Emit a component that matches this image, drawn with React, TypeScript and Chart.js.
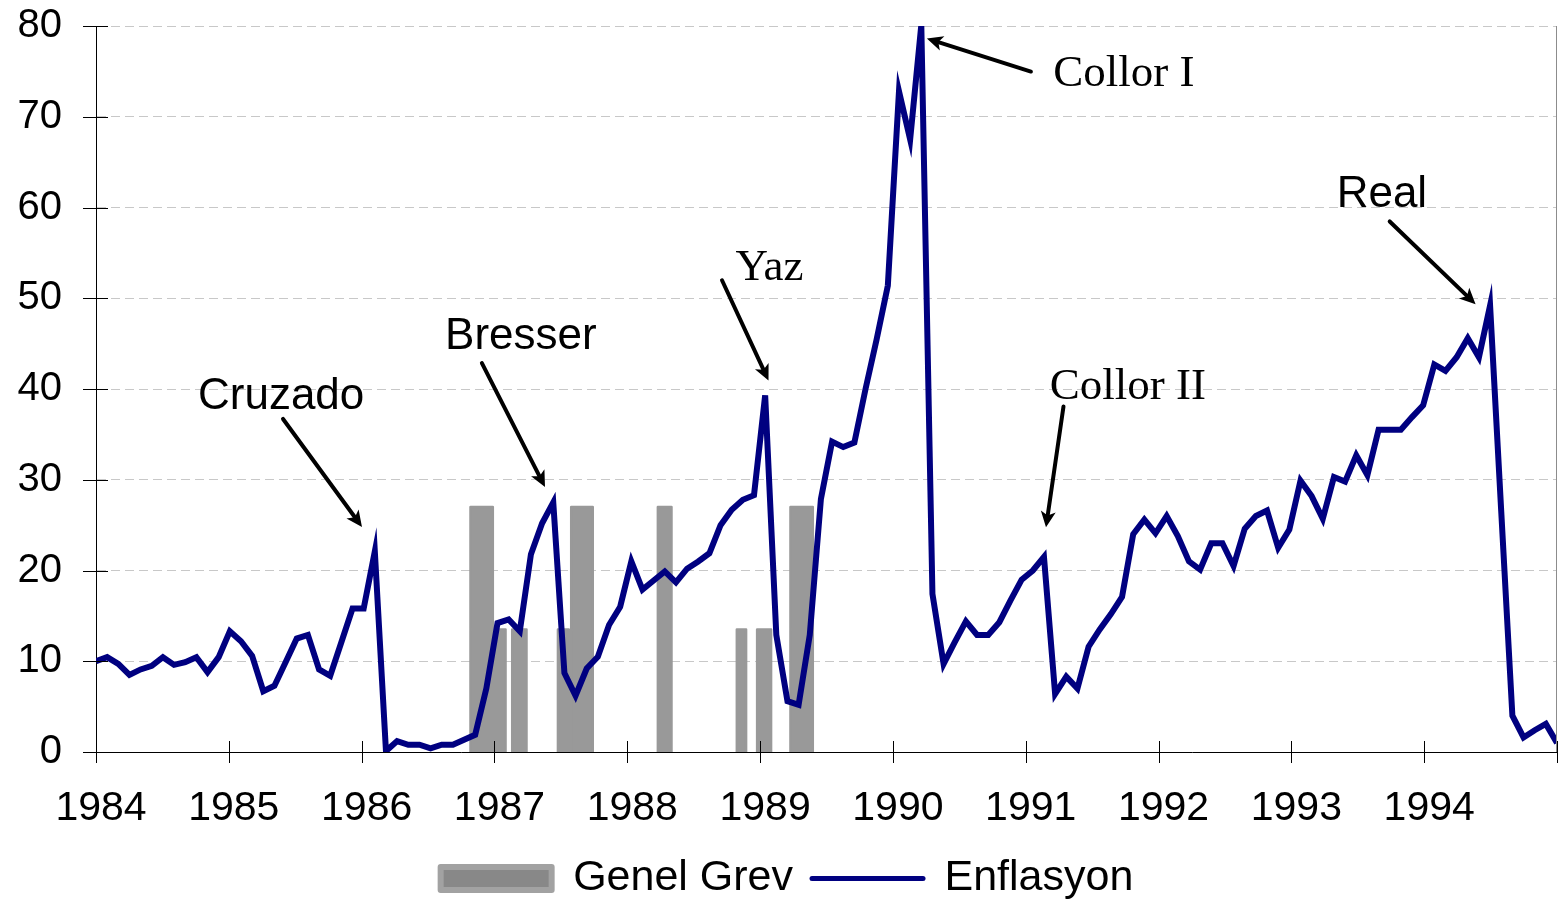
import React, { useEffect, useRef } from "react";
import { Chart, registerables } from "chart.js";

Chart.register(...registerables);

// ---------- DATA ----------
const yearLabels = ["1984", "1985", "1986", "1987", "1988", "1989", "1990", "1991", "1992", "1993", "1994"];

// Monthly inflation (%), Jan 1984 .. Dec 1994
const inflation = [
  10.0, 10.45, 9.7, 8.5, 9.1, 9.5, 10.45, 9.6, 9.9, 10.45, 8.8, 10.45,
  13.3, 12.2, 10.6, 6.7, 7.3, 9.9, 12.5, 12.9, 9.1, 8.4, 12.1, 15.8,
  15.8, 22.1, 0.1, 1.2, 0.8, 0.8, 0.4, 0.8, 0.8, 1.35, 1.9, 7.0,
  14.2, 14.6, 13.3, 21.8, 25.2, 27.5, 8.7, 6.2, 9.2, 10.5, 14.0, 16.0,
  21.0, 17.9, 18.9, 19.9, 18.7, 20.2, 21.0, 21.9, 25.0, 26.7, 27.8, 28.3,
  39.3, 12.9, 5.6, 5.2, 12.9, 27.9, 34.2, 33.6, 34.1, 40.0, 45.5, 51.4,
  72.8, 67.5, 80.1, 17.4, 9.7, 12.1, 14.4, 12.9, 12.9, 14.3, 16.7, 19.0,
  20.0, 21.5, 6.4, 8.3, 7.0, 11.6, 13.5, 15.2, 17.1, 24.0, 25.6, 24.1,
  26.0, 23.8, 21.0, 20.1, 23.0, 23.0, 20.5, 24.6, 26.0, 26.6, 22.5, 24.5,
  29.9, 28.2, 25.7, 30.3, 29.8, 32.7, 30.5, 35.5, 35.5, 35.5, 36.9, 38.2,
  42.7, 42.0, 43.5, 45.6, 43.5, 49.2, 26.5, 4.0, 1.6, 2.4, 3.1, 1.0,
];

// General strike periods (month index from Jan 1984) and bar level
const strikeStart = [33.58, 35.79, 37.32, 41.42, 42.61, 50.38, 57.46, 59.28, 62.27];
const strikeEnd = [35.58, 36.72, 38.6, 42.39, 44.54, 51.6, 58.29, 60.53, 64.27];
const strikeLevel = [27, 13.5, 13.5, 13.5, 27, 27, 13.5, 13.5, 27];

const seriesNames = ["Genel Grev", "Enflasyon"];

const annotationTexts = ["Cruzado", "Bresser", "Yaz", "Collor I", "Collor II", "Real"];
const annotationSerif = [false, false, true, true, true, false];
// text anchor (month index, value at baseline), arrow tail and tip in data units
const annotationAt = [
  [16.6, 37.8], [38.1, 44.4], [60.39, 52.0], [92.17, 73.4], [92.53, 38.9], [115.3, 60.1],
];
const arrowTail = [
  [16.77, 36.7], [34.6, 42.86], [56.13, 51.98], [83.83, 74.98], [86.75, 38.08], [116.0, 58.46],
];
const arrowTip = [
  [23.85, 24.8], [40.26, 29.2], [60.3, 40.93], [74.5, 78.63], [85.18, 24.76], [123.7, 49.34],
];

// ---------- STYLE ----------
const SANS = "'Liberation Sans', Arial, sans-serif";
const SERIF = "'Liberation Serif', 'Times New Roman', serif";
const NAVY = "#000080";
const BAR_GREY = "#999999";

function drawArrow(ctx: CanvasRenderingContext2D, x1: number, y1: number, x2: number, y2: number) {
  const ang = Math.atan2(y2 - y1, x2 - x1);
  const head = 16;
  const half = 7.5;
  const c = Math.cos(ang);
  const s = Math.sin(ang);
  const bx = x2 - head * c;
  const by = y2 - head * s;
  ctx.strokeStyle = "#000";
  ctx.fillStyle = "#000";
  ctx.lineWidth = 4;
  ctx.lineCap = "round";
  ctx.beginPath();
  ctx.moveTo(x1, y1);
  ctx.lineTo(bx + 4 * c, by + 4 * s);
  ctx.stroke();
  ctx.beginPath();
  ctx.moveTo(x2, y2);
  ctx.lineTo(bx - half * s, by + half * c);
  ctx.lineTo(bx + 4 * c, by + 4 * s);
  ctx.lineTo(bx + half * s, by - half * c);
  ctx.closePath();
  ctx.fill();
}

const overlayPlugin = {
  id: "overlay",
  afterDatasetsDraw(chart: any) {
    const { ctx, chartArea: a, scales } = chart;
    const x = scales.x;
    const y = scales.y;
    ctx.save();
    // right frame line
    ctx.strokeStyle = "#8c8c8c";
    ctx.lineWidth = 1;
    ctx.beginPath();
    ctx.moveTo(Math.round(a.right) - 0.5, a.top);
    ctx.lineTo(Math.round(a.right) - 0.5, a.bottom);
    ctx.stroke();
    // tick marks crossing the axes
    ctx.strokeStyle = "#000";
    y.ticks.forEach((t: any) => {
      const py = Math.round(y.getPixelForValue(t.value)) + 0.5;
      ctx.beginPath();
      ctx.moveTo(a.left - 13, py);
      ctx.lineTo(a.left + 12, py);
      ctx.stroke();
    });
    x.ticks.forEach((t: any) => {
      const px = Math.round(x.getPixelForValue(t.value)) + 0.5;
      ctx.beginPath();
      ctx.moveTo(px, a.bottom + 11);
      ctx.lineTo(px, a.bottom - 11);
      ctx.stroke();
    });
    ctx.restore();
  },
  afterDraw(chart: any) {
    const { ctx, scales } = chart;
    const x = scales.x;
    const y = scales.y;
    ctx.save();
    annotationTexts.forEach((txt, i) => {
      const tx = x.getPixelForValue(annotationAt[i][0]);
      const ty = y.getPixelForValue(annotationAt[i][1]);
      ctx.font = annotationSerif[i] ? `45px ${SERIF}` : `44px ${SANS}`;
      ctx.fillStyle = "#000";
      ctx.textAlign = "center";
      ctx.textBaseline = "alphabetic";
      ctx.fillText(txt, tx, ty);
      drawArrow(
        ctx,
        x.getPixelForValue(arrowTail[i][0]),
        y.getPixelForValue(arrowTail[i][1]),
        x.getPixelForValue(arrowTip[i][0]),
        y.getPixelForValue(arrowTip[i][1])
      );
    });
    ctx.restore();
  },
};

export default function App() {
  const canvasRef = useRef<HTMLCanvasElement | null>(null);

  useEffect(() => {
    if (!canvasRef.current) return;
    Chart.defaults.font.family = SANS;

    const N = inflation.length;
    const lineData = inflation.map((v, i) => ({ x: i, y: v }));
    const barData: any[] = [];
    strikeStart.forEach((s, i) => {
      const e = strikeEnd[i];
      const h = strikeLevel[i];
      barData.push({ x: s, y: 0 }, { x: s, y: h }, { x: e, y: h }, { x: e, y: 0 }, { x: e, y: null });
    });

    const chart = new Chart(canvasRef.current, {
      type: "line",
      data: {
        datasets: [
          {
            label: seriesNames[0],
            data: barData,
            borderColor: BAR_GREY,
            backgroundColor: BAR_GREY,
            borderWidth: 2.5,
            borderJoinStyle: "round",
            fill: "origin",
            pointRadius: 0,
            tension: 0,
            spanGaps: false,
            order: 2,
          },
          {
            label: seriesNames[1],
            data: lineData,
            borderColor: NAVY,
            backgroundColor: NAVY,
            borderWidth: 6,
            fill: false,
            pointRadius: 0,
            tension: 0,
            order: 1,
          },
        ],
      },
      options: {
        animation: false,
        responsive: false,
        devicePixelRatio: 1,
        layout: { padding: { left: 17, right: 8, top: 26, bottom: -9 } },
        plugins: {
          tooltip: { enabled: false },
          legend: {
            position: "bottom",
            labels: {
              usePointStyle: true,
              pointStyleWidth: 111,
              boxHeight: 23,
              padding: 19,
              color: "#000",
              font: { size: 43, family: SANS },
              generateLabels: () => [
                {
                  text: seriesNames[0],
                  fillStyle: "#888888",
                  strokeStyle: "#a2a2a2",
                  lineWidth: 6,
                  lineJoin: "round",
                  pointStyle: "rect",
                  datasetIndex: 0,
                  hidden: false,
                  fontColor: "#000",
                },
                {
                  text: seriesNames[1],
                  fillStyle: NAVY,
                  strokeStyle: NAVY,
                  lineWidth: 5,
                  lineCap: "round",
                  pointStyle: "line",
                  datasetIndex: 1,
                  hidden: false,
                  fontColor: "#000",
                },
              ],
            },
          },
        },
        scales: {
          x: {
            type: "linear",
            min: 0,
            max: N - 1,
            afterBuildTicks: (axis: any) => {
              const ticks = [];
              for (let k = 0; k <= yearLabels.length; k++) ticks.push({ value: (k * (N - 1)) / yearLabels.length });
              axis.ticks = ticks;
            },
            afterFit: (axis: any) => {
              axis.height = 86;
            },
            ticks: {
              autoSkip: false,
              maxRotation: 0,
              padding: 0,
              labelOffset: 5,
              color: "#000",
              font: { size: 41, family: SANS },
              callback: (_v: any, i: number) => (i < yearLabels.length ? yearLabels[i] : ""),
            },
            grid: {
              drawOnChartArea: false,
              drawTicks: true,
              tickLength: 32,
              tickColor: "rgba(0,0,0,0)",
              tickWidth: 1,
            },
            border: { color: "#000", width: 1 },
          },
          y: {
            min: 0,
            max: 80,
            afterFit: (axis: any) => {
              axis.width = 79;
            },
            ticks: {
              stepSize: 10,
              padding: 0,
              color: "#000",
              font: { size: 40, family: SANS },
            },
            grid: {
              color: "#c8c8c8",
              lineWidth: 1,
              tickColor: "rgba(0,0,0,0)",
              tickLength: 34,
              tickBorderDash: [],
            },
            border: { color: "#000", width: 1, dash: [9, 5] },
          },
        },
      } as any,
      plugins: [overlayPlugin],
    } as any);

    return () => chart.destroy();
  }, []);

  return (
    <div style={{ position: "absolute", left: 0, top: 0, width: 1565, height: 901, background: "#fff" }}>
      <canvas ref={canvasRef} width={1565} height={901} style={{ display: "block" }} />
    </div>
  );
}
